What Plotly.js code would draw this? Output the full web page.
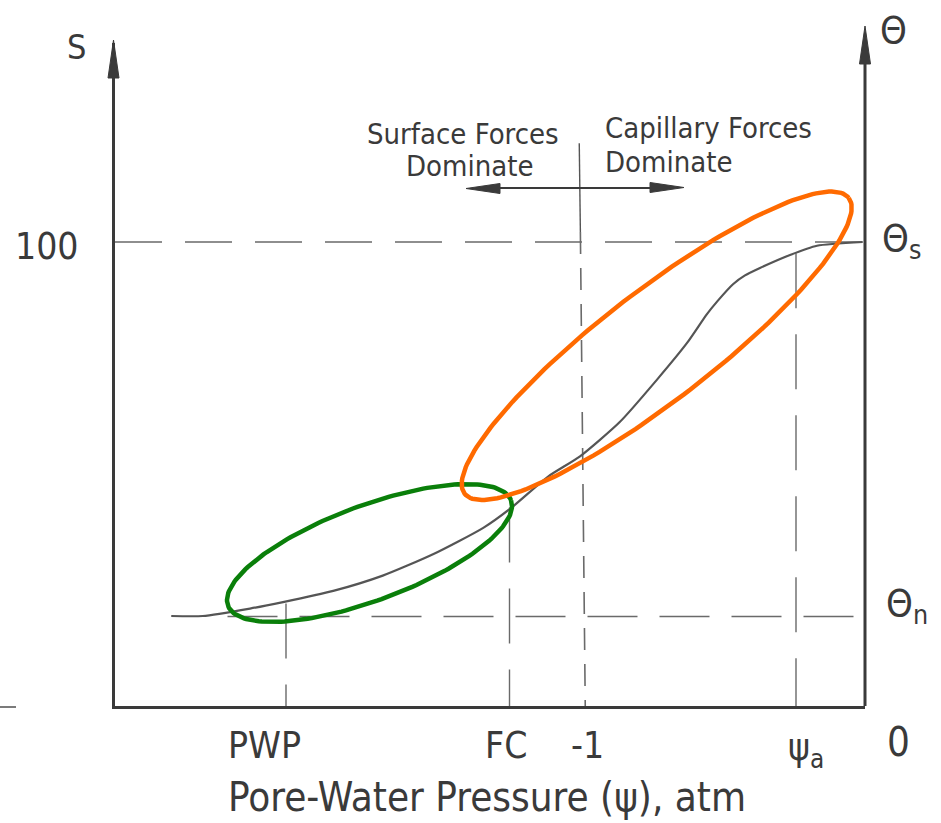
<!DOCTYPE html>
<html>
<head>
<meta charset="utf-8">
<script src="https://cdn.plot.ly/plotly-3.0.1.min.js"></script>
<style>html,body{margin:0;padding:0;background:#fff;}#chart{width:941px;height:823px;}</style>
</head>
<body>
<div id="chart"></div>
<script>
// ---- data (x: relative position along the pressure axis, 0 = left axis, 100 = right axis; y: S, %) ----
const curveX = [7.5, 11.7, 18.0, 22.4, 29.1, 35.7, 42.4, 49.1, 52.9, 57.7, 62.0, 67.3, 72.3, 76.3, 78.9, 80.3, 82.4, 84.0, 86.0, 90.0, 93.6, 99.7];
const curveS = [19.4, 19.4, 21.0, 22.4, 24.8, 28.1, 32.7, 38.4, 42.8, 49.4, 53.8, 61.2, 70.4, 78.3, 84.4, 87.2, 90.9, 92.8, 94.4, 97.2, 99.2, 100.0];
const thetaLevels = {s: 100, n: 19.3};
const markerNames = ['PWP', 'FC', '-1', 'ψa'];
const markerX = [22.8, 52.6, 62.3, 90.8];
const markerTopS = [22.1, 42.8, 121.3, 97.6];
const xTickLabels = ['PWP', 'FC', '-1', 'ψ<sub>a</sub>', '0'];
const yTickLabels = ['100'];
const annotText = ['Surface Forces', 'Dominate', 'Capillary Forces', 'Dominate'];

// ---- geometry helpers (figure pixels -> paper / data) ----
const W = 941, H = 823, Lpx = 115, Rpx = 865, Bpx = 706, Tpx = 43;
const pxPerX = (Rpx - Lpx) / 100, pxPerS = 4.64;
const yMax = (Bpx - Tpx) / pxPerS;
const PX = p => (p - Lpx) / (Rpx - Lpx);
const PY = p => (Bpx - p) / (Bpx - Tpx);
const DX = p => (p - Lpx) / pxPerX;
const DS = p => (Bpx - p) / pxPerS;

const ink = '#3a3a3a';
const FONT = '"DejaVu Sans Condensed", "Liberation Sans", sans-serif';

function ellipse(cx, cy, a, b, deg) {
  const th = deg * Math.PI / 180, xs = [], ys = [];
  for (let i = 0; i <= 200; i++) {
    const t = 2 * Math.PI * i / 200;
    const px = cx + a * Math.cos(t) * Math.cos(th) + b * Math.sin(t) * Math.sin(th);
    const py = cy - a * Math.cos(t) * Math.sin(th) + b * Math.sin(t) * Math.cos(th);
    xs.push(DX(px)); ys.push(DS(py));
  }
  return {xs, ys};
}

const traces = [];
// theta_s and theta_n dashed levels
traces.push({x: [0, 100], y: [thetaLevels.s, thetaLevels.s], mode: 'lines', line: {color: '#6a6a6a', width: 1.6, dash: '47px,23px'}, hoverinfo: 'skip'});
traces.push({x: [15, 100], y: [thetaLevels.n, thetaLevels.n], mode: 'lines', line: {color: '#6a6a6a', width: 1.6, dash: '50px,22px'}, hoverinfo: 'skip'});
// vertical markers
markerX.forEach((mx, i) => {
  const isMinusOne = markerNames[i] === '-1';
  if (isMinusOne) {
    traces.push({x: [mx - 0.4, mx - 0.25], y: [markerTopS[i], DS(232)], mode: 'lines', line: {color: '#555', width: 1.4}, hoverinfo: 'skip'});
    traces.push({x: [mx - 0.25, mx + 0.4], y: [DS(232), 0], mode: 'lines', line: {color: '#6a6a6a', width: 1.6, dash: '22px,14px'}, hoverinfo: 'skip'});
  } else {
    traces.push({x: [mx, mx], y: [markerTopS[i], 0], mode: 'lines', line: {color: '#6a6a6a', width: 1.4, dash: '55px,26px'}, hoverinfo: 'skip'});
  }
});
// the curve
traces.push({x: curveX, y: curveS, mode: 'lines', line: {color: '#555', width: 2.2, shape: 'spline', smoothing: 0.6}, hoverinfo: 'skip'});
// highlight ellipses
const eo = ellipse(656.7, 345.8, 242.4, 55.2, 37.6);
const eg = ellipse(369.5, 553, 151, 47.5, 20.4);
traces.push({x: eg.xs, y: eg.ys, mode: 'lines', line: {color: '#0a7f0a', width: 4.5}, hoverinfo: 'skip'});
traces.push({x: eo.xs, y: eo.ys, mode: 'lines', line: {color: '#ff6a00', width: 4.5}, hoverinfo: 'skip'});

function tri(tipX, tipY, baseX1, baseY1, baseX2, baseY2) {
  return {type: 'path', xref: 'paper', yref: 'paper',
    path: `M ${PX(tipX)} ${PY(tipY)} L ${PX(baseX1)} ${PY(baseY1)} L ${PX(baseX2)} ${PY(baseY2)} Z`,
    fillcolor: ink, line: {color: ink, width: 1}};
}
const shapes = [
  // right axis line (extends above plot area)
  {type: 'line', xref: 'paper', yref: 'paper', x0: PX(Rpx), x1: PX(Rpx), y0: PY(Bpx), y1: PY(50), line: {color: ink, width: 3}},
  // arrowheads on axes
  tri(113.5, 40, 108, 78, 119, 78),
  tri(Rpx, 26, Rpx - 5.5, 64, Rpx + 5.5, 64),
  // horizontal double arrow
  {type: 'line', xref: 'paper', yref: 'paper', x0: PX(490), x1: PX(660), y0: PY(188), y1: PY(188), line: {color: ink, width: 2}},
  tri(466, 188.5, 500, 183.5, 500, 193.5),
  tri(684, 187.5, 650, 182.5, 650, 192.5),
  // scan artefact at left edge
  {type: 'line', xref: 'paper', yref: 'paper', x0: PX(0), x1: PX(16), y0: PY(707), y1: PY(707), line: {color: '#222', width: 1.2}}
];

function txt(text, px, py, size, xanchor, extra) {
  return Object.assign({text, xref: 'paper', yref: 'paper', x: PX(px), y: PY(py), xanchor: xanchor || 'center', yanchor: 'middle',
    showarrow: false, font: {family: FONT, size, color: ink}}, extra || {});
}
const annotations = [
  txt('S', 76, 47, 34),
  txt(yTickLabels[0], 47, 246, 37),
  txt('Θ', 893, 30, 38),
  txt('Θ<sub>s</sub>', 880, 240, 38, 'left'),
  txt('Θ<sub>n</sub>', 884, 605, 38, 'left'),
  txt(xTickLabels[0], 264, 745, 37),
  txt(xTickLabels[1], 506, 745, 37),
  txt(xTickLabels[2], 587, 745, 37),
  txt(xTickLabels[3], 806, 750, 37),
  txt(xTickLabels[4], 899, 742, 40),
  txt('Pore-Water Pressure (ψ), atm', 487, 797, 40),
  txt(annotText[0], 463, 134, 29),
  txt(annotText[1], 470, 166, 29),
  txt(annotText[2], 603, 128, 29, 'left'),
  txt(annotText[3], 603, 162, 29, 'left')
];

const layout = {
  width: W, height: H,
  margin: {l: Lpx, r: W - Rpx, t: Tpx, b: H - Bpx, pad: 0},
  paper_bgcolor: '#fff', plot_bgcolor: '#fff',
  showlegend: false,
  xaxis: {range: [0, 100], showgrid: false, zeroline: false, showticklabels: false, ticks: '',
          showline: true, linecolor: ink, linewidth: 3, fixedrange: true},
  yaxis: {range: [0, yMax], showgrid: false, zeroline: false, showticklabels: false, ticks: '',
          showline: true, linecolor: ink, linewidth: 3, fixedrange: true},
  shapes, annotations
};
Plotly.newPlot('chart', traces, layout, {staticPlot: true, displayModeBar: false});
</script>
</body>
</html>
